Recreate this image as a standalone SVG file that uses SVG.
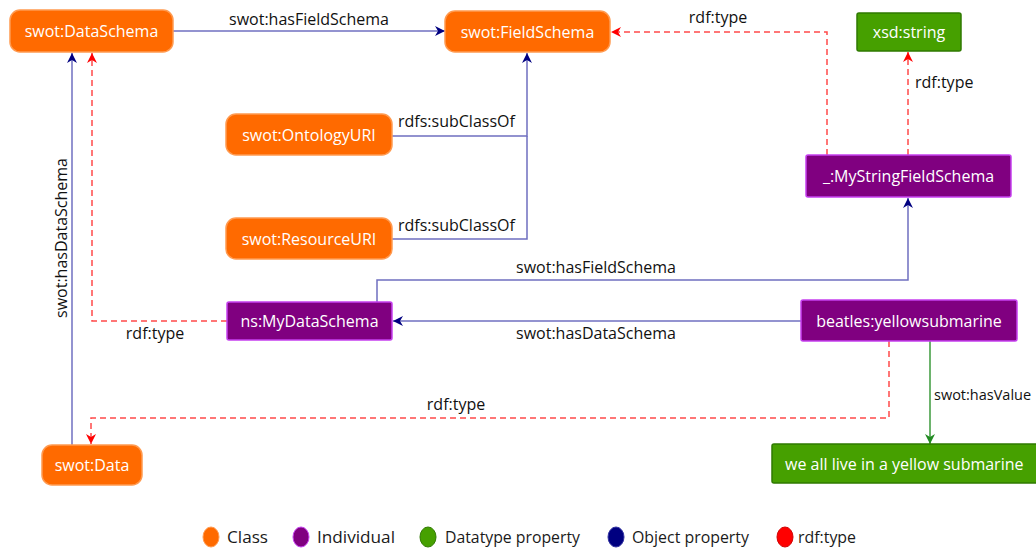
<svg xmlns="http://www.w3.org/2000/svg" width="1036" height="548" viewBox="0 0 1036 548">
<style>
text{font-family:"Open Sans","Noto Sans",sans-serif}
.nl{fill:#fff;font-size:16px;text-anchor:middle;dominant-baseline:central}
.nls{fill:#fff;font-size:16px;text-anchor:start;dominant-baseline:central}
.el{fill:#111;font-size:16px}
.lg{fill:#1a1a1a;font-size:16px;dominant-baseline:central}
.cls{fill:#ff6a00;stroke:#ff9a50;stroke-width:1.5}
.ind{fill:#800080;stroke:#c640f0;stroke-width:1.5}
.lit{fill:#46a000;stroke:#2f7a00;stroke-width:1.5}
.obj{fill:none;stroke:#6f6fc0;stroke-width:1.5}
.typ{fill:none;stroke:#ff4a4a;stroke-width:1.5;stroke-dasharray:6,4}
.dat{fill:none;stroke:#3c9a3c;stroke-width:1.5}
</style>
<defs>
<marker id="aObj" viewBox="0 0 10 10" refX="10" refY="5" markerWidth="10" markerHeight="10" markerUnits="userSpaceOnUse" orient="auto"><path d="M0,0L10,5L0,10L3,5Z" fill="#000080"/></marker>
<marker id="aTyp" viewBox="0 0 10 10" refX="10" refY="5" markerWidth="10" markerHeight="10" markerUnits="userSpaceOnUse" orient="auto"><path d="M0,0L10,5L0,10L3,5Z" fill="#ff0000"/></marker>
<marker id="aDat" viewBox="0 0 10 10" refX="10" refY="5" markerWidth="10" markerHeight="10" markerUnits="userSpaceOnUse" orient="auto"><path d="M0,0L10,5L0,10L3,5Z" fill="#228b22"/></marker>
</defs>
<rect width="1036" height="548" fill="#fff"/>
<g id="connectors">
<path class="obj" d="M173,31H445" marker-end="url(#aObj)"/>
<text class="el" x="309" y="25" text-anchor="middle">swot:hasFieldSchema</text>
<path class="typ" d="M827,155V32H611" marker-end="url(#aTyp)"/>
<text class="el" x="718" y="23" text-anchor="middle">rdf:type</text>
<path class="typ" d="M908,155V52" marker-end="url(#aTyp)"/>
<text class="el" x="915" y="88">rdf:type</text>
<path class="obj" d="M392,136H527V53" marker-end="url(#aObj)"/>
<path class="obj" d="M392,239H527V136"/>
<text class="el" x="398" y="127">rdfs:subClassOf</text>
<text class="el" x="398" y="231">rdfs:subClassOf</text>
<path class="obj" d="M377,302V280H908V198" marker-end="url(#aObj)"/>
<text class="el" x="596" y="273" text-anchor="middle">swot:hasFieldSchema</text>
<path class="obj" d="M801,321H393" marker-end="url(#aObj)"/>
<text class="el" x="596" y="339" text-anchor="middle">swot:hasDataSchema</text>
<path class="typ" d="M227,321H92V53" marker-end="url(#aTyp)"/>
<text class="el" x="155" y="339" text-anchor="middle">rdf:type</text>
<path class="obj" d="M72,445V53" marker-end="url(#aObj)"/>
<text class="el" x="0" y="0" text-anchor="middle" transform="translate(67,238) rotate(-90)">swot:hasDataSchema</text>
<path class="typ" d="M889,341V418H91V444" marker-end="url(#aTyp)"/>
<text class="el" x="456" y="410" text-anchor="middle">rdf:type</text>
<path class="dat" d="M930,341V444" marker-end="url(#aDat)"/>
<text class="el" x="934" y="400" style="font-size:14.5px">swot:hasValue</text>
</g>
<g id="n-dataschema"><rect class="cls" x="10" y="10" width="163" height="42" rx="10"/><text class="nl" x="91.5" y="31">swot:DataSchema</text></g>
<g id="n-fieldschema"><rect class="cls" x="445" y="11" width="165" height="41" rx="10"/><text class="nl" x="527.5" y="31.5">swot:FieldSchema</text></g>
<g id="n-xsdstring"><rect class="lit" x="857" y="13" width="104" height="38" rx="2"/><text class="nl" x="909" y="32">xsd:string</text></g>
<g id="n-mystringfieldschema"><rect class="ind" x="806" y="155" width="205" height="42" rx="2"/><text class="nl" x="908.5" y="176">_:MyStringFieldSchema</text></g>
<g id="n-ontologyuri"><rect class="cls" x="226" y="114" width="166" height="41" rx="10"/><text class="nl" x="309" y="134.5">swot:OntologyURI</text></g>
<g id="n-resourceuri"><rect class="cls" x="226" y="218" width="166" height="41" rx="10"/><text class="nl" x="309" y="238.5">swot:ResourceURI</text></g>
<g id="n-mydataschema"><rect class="ind" x="227" y="302" width="165" height="38" rx="2"/><text class="nl" x="309.5" y="321">ns:MyDataSchema</text></g>
<g id="n-data"><rect class="cls" x="42" y="445" width="100" height="40" rx="10"/><text class="nl" x="92" y="465">swot:Data</text></g>
<g id="n-yellowsubmarine"><rect class="ind" x="801" y="300" width="216" height="41" rx="2"/><text class="nl" x="909" y="320.5">beatles:yellowsubmarine</text></g>
<g id="n-literal"><rect class="lit" x="772" y="444" width="270" height="39" rx="2"/><text class="nls" x="785" y="463.5">we all live in a yellow submarine</text></g>
<g id="legend">
<ellipse cx="211" cy="537" rx="8" ry="10" fill="#ff6a00" stroke="#ff9a50"/>
<text class="lg" x="227" y="537" textLength="41" lengthAdjust="spacingAndGlyphs">Class</text>
<ellipse cx="301" cy="537" rx="8" ry="10" fill="#800080" stroke="#c640f0"/>
<text class="lg" x="317" y="537" textLength="78" lengthAdjust="spacingAndGlyphs">Individual</text>
<ellipse cx="428" cy="537" rx="8" ry="10" fill="#46a000" stroke="#2f7a00"/>
<text class="lg" x="445" y="537" textLength="135" lengthAdjust="spacingAndGlyphs">Datatype property</text>
<ellipse cx="616" cy="537" rx="8" ry="10" fill="#000080" stroke="#3030a0"/>
<text class="lg" x="632" y="537" textLength="117" lengthAdjust="spacingAndGlyphs">Object property</text>
<ellipse cx="785" cy="537" rx="8" ry="10" fill="#ff0000" stroke="#d00000"/>
<text class="lg" x="798" y="537" textLength="58" lengthAdjust="spacingAndGlyphs">rdf:type</text>
</g>
</svg>
